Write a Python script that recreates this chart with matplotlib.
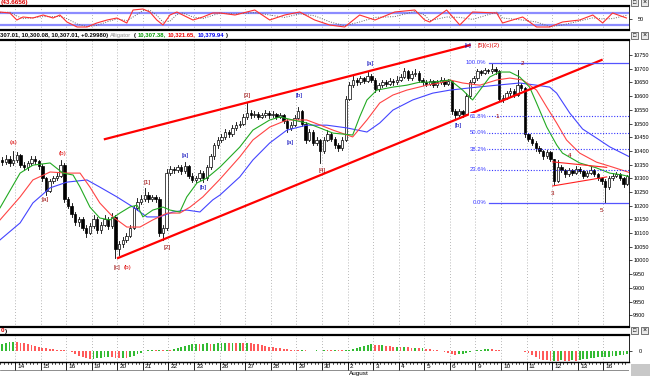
import matplotlib
matplotlib.use("Agg")
import matplotlib.pyplot as plt
from matplotlib.patches import Rectangle

plt.rcParams['font.family'] = ['Liberation Sans Narrow', 'Liberation Sans', 'DejaVu Sans']

# ---- hourly bars (Dow, 13 Jul .. 16 Aug), 7 bars a day ----
opens = [10365, 10360, 10372, 10355,
         10368, 10385, 10350, 10340, 10355, 10372, 10362,
         10345, 10300, 10255, 10290, 10300, 10310, 10350,
         10225, 10200, 10170, 10140, 10150, 10120, 10100,
         10125, 10150, 10110, 10130, 10150, 10125, 10160,
         10040, 10060, 10075, 10090, 10120, 10190, 10215,
         10225, 10240, 10225, 10230, 10225, 10100, 10120,
         10320, 10335, 10330, 10340, 10325, 10345, 10310,
         10295, 10300, 10320, 10300, 10340, 10380, 10420,
         10440, 10450, 10470, 10460, 10485, 10495, 10500,
         10525, 10540, 10530, 10535, 10525, 10530, 10540,
         10530, 10535, 10525, 10530, 10510, 10485, 10495,
         10520, 10545, 10500, 10440, 10470, 10430, 10440,
         10400, 10440, 10460, 10445, 10420, 10410, 10440,
         10590, 10640, 10660, 10650, 10665, 10655, 10675,
         10660, 10625, 10640, 10650, 10645, 10655, 10650,
         10660, 10670, 10690, 10665, 10680, 10685, 10660,
         10650, 10645, 10655, 10640, 10650, 10660, 10645,
         10655, 10545, 10530, 10545, 10535, 10600, 10650,
         10665, 10690, 10685, 10695, 10690, 10700, 10690,
         10590, 10595, 10610, 10620, 10605, 10640, 10630,
         10460, 10445, 10430, 10410, 10400, 10380, 10395,
         10370, 10290, 10340, 10330, 10315, 10330, 10320,
         10335, 10325, 10310, 10320, 10330, 10315, 10300,
         10290, 10270, 10300, 10310, 10315, 10300, 10280]
highs = [10378, 10385, 10380, 10400,
         10395, 10390, 10358, 10362, 10382, 10380, 10368,
         10352, 10305, 10298, 10310, 10320, 10365, 10355,
         10232, 10210, 10178, 10160, 10158, 10130, 10135,
         10165, 10158, 10140, 10165, 10160, 10172, 10165,
         10070, 10085, 10100, 10130, 10200, 10228, 10240,
         10265, 10250, 10240, 10238, 10232, 10128, 10335,
         10345, 10342, 10350, 10348, 10358, 10350, 10318,
         10310, 10330, 10325, 10348, 10390, 10430, 10450,
         10462, 10480, 10478, 10495, 10505, 10510, 10535,
         10575, 10548, 10545, 10542, 10540, 10550, 10546,
         10545, 10540, 10538, 10535, 10515, 10505, 10530,
         10560, 10550, 10505, 10480, 10475, 10450, 10445,
         10450, 10475, 10468, 10450, 10428, 10450, 10600,
         10650, 10672, 10668, 10675, 10670, 10688, 10680,
         10665, 10648, 10660, 10658, 10665, 10662, 10672,
         10680, 10702, 10695, 10690, 10698, 10690, 10665,
         10658, 10662, 10660, 10658, 10670, 10665, 10662,
         10660, 10552, 10552, 10550, 10610, 10660, 10672,
         10698, 10695, 10702, 10700, 10722, 10708, 10695,
         10605, 10620, 10628, 10625, 10695, 10648, 10635,
         10465, 10450, 10435, 10418, 10405, 10402, 10400,
         10372, 10365, 10348, 10335, 10338, 10335, 10345,
         10340, 10330, 10328, 10345, 10335, 10320, 10305,
         10298, 10308, 10318, 10322, 10320, 10305, 10312]
lows = [10350, 10352, 10345, 10350,
        10360, 10342, 10330, 10332, 10350, 10352, 10335,
        10290, 10240, 10250, 10282, 10295, 10305, 10215,
        10190, 10160, 10130, 10125, 10110, 10085, 10095,
        10118, 10100, 10102, 10125, 10115, 10120, 10010,
        10020, 10050, 10068, 10085, 10115, 10185, 10205,
        10218, 10215, 10218, 10215, 10090, 10075, 10112,
        10312, 10320, 10322, 10315, 10318, 10302, 10285,
        10288, 10295, 10288, 10295, 10335, 10372, 10412,
        10432, 10445, 10450, 10455, 10478, 10488, 10495,
        10518, 10522, 10525, 10518, 10520, 10525, 10522,
        10524, 10518, 10520, 10502, 10470, 10478, 10490,
        10515, 10492, 10430, 10435, 10420, 10422, 10355,
        10392, 10435, 10438, 10410, 10400, 10405, 10435,
        10585, 10632, 10642, 10645, 10648, 10650, 10652,
        10615, 10620, 10635, 10638, 10640, 10642, 10645,
        10655, 10665, 10658, 10660, 10675, 10652, 10642,
        10638, 10640, 10632, 10635, 10645, 10638, 10640,
        10535, 10520, 10525, 10525, 10530, 10595, 10645,
        10660, 10678, 10680, 10684, 10686, 10682, 10582,
        10580, 10588, 10602, 10598, 10600, 10622, 10450,
        10435, 10422, 10400, 10392, 10372, 10375, 10362,
        10275, 10285, 10322, 10305, 10310, 10312, 10315,
        10318, 10302, 10305, 10315, 10308, 10292, 10280,
        10210, 10262, 10295, 10305, 10292, 10270, 10275]
closes = [10360, 10372, 10355, 10368,
          10385, 10350, 10340, 10355, 10372, 10362, 10345,
          10300, 10255, 10290, 10300, 10310, 10350, 10225,
          10200, 10170, 10140, 10150, 10120, 10100, 10125,
          10150, 10110, 10130, 10150, 10125, 10160, 10040,
          10060, 10075, 10090, 10120, 10190, 10215, 10225,
          10240, 10225, 10230, 10225, 10100, 10120, 10320,
          10335, 10330, 10340, 10325, 10345, 10310, 10295,
          10300, 10320, 10300, 10340, 10380, 10420, 10440,
          10450, 10470, 10460, 10485, 10495, 10500, 10525,
          10540, 10530, 10535, 10525, 10530, 10540, 10530,
          10535, 10525, 10530, 10510, 10485, 10495, 10520,
          10545, 10500, 10440, 10470, 10430, 10440, 10400,
          10440, 10460, 10445, 10420, 10410, 10440, 10590,
          10640, 10660, 10650, 10665, 10655, 10675, 10660,
          10625, 10640, 10650, 10645, 10655, 10650, 10660,
          10670, 10690, 10665, 10680, 10685, 10660, 10650,
          10645, 10655, 10640, 10650, 10660, 10645, 10655,
          10545, 10530, 10545, 10535, 10600, 10650, 10665,
          10690, 10685, 10695, 10690, 10700, 10690, 10590,
          10595, 10610, 10620, 10605, 10640, 10630, 10460,
          10445, 10430, 10410, 10400, 10380, 10395, 10370,
          10290, 10340, 10330, 10315, 10330, 10320, 10335,
          10325, 10310, 10320, 10330, 10315, 10300, 10290,
          10270, 10300, 10310, 10315, 10300, 10280, 10307]

# alligator lines (bar position, price)
lips_x = [-0.6, 4.9, 8.4, 13.1, 16.6, 19.4, 21.3, 24.0, 26.7, 29.5, 32.2, 34.9, 36.9, 38.5, 41.2, 44.0,
          45.9, 48.6, 50.5, 53.3, 56.0, 59.6, 65.0, 68.6, 73.2, 76.0, 79.5, 83.3, 86.9, 90.5, 95.9, 97.8,
          99.8, 102.5, 106.9, 110.7, 114.2, 117.8, 122.5, 126.0, 128.7, 130.7, 133.4, 136.1, 138.9, 141.6,
          144.3, 146.2, 149.0, 151.7, 153.3, 158.0, 162.6, 166.2, 169.7, 171.4]
lips_y = [10192, 10319, 10348, 10356, 10319, 10312, 10268, 10195, 10155, 10148, 10173, 10195, 10202, 10159,
          10184, 10195, 10184, 10177, 10232, 10283, 10301, 10341, 10414, 10476, 10513, 10524, 10513, 10502,
          10484, 10465, 10458, 10524, 10586, 10622, 10633, 10640, 10651, 10651, 10659, 10622, 10586, 10622,
          10670, 10688, 10688, 10670, 10633, 10575, 10487, 10422, 10392, 10356, 10338, 10319, 10312, 10307]
teeth_x = [-0.6, 4.9, 8.4, 13.1, 17.7, 21.3, 24.0, 26.7, 30.3, 34.1, 37.7, 41.2, 45.1, 48.6, 51.4, 54.9,
           59.6, 65.0, 68.6, 73.2, 77.9, 83.3, 86.9, 90.5, 95.9, 99.8, 103.3, 106.9, 110.7, 116.2, 119.7,
           122.5, 126.0, 130.7, 135.3, 138.9, 142.4, 146.2, 149.0, 151.7, 154.4, 158.0, 162.6, 167.0, 171.4]
teeth_y = [10148, 10232, 10294, 10323, 10319, 10319, 10268, 10210, 10159, 10122, 10122, 10148, 10173, 10173,
           10195, 10232, 10297, 10378, 10440, 10487, 10513, 10513, 10495, 10476, 10451, 10513, 10575, 10604,
           10622, 10640, 10648, 10659, 10648, 10640, 10659, 10666, 10659, 10622, 10560, 10502, 10440, 10392,
           10359, 10341, 10322]
jaw_x = [-0.6, 4.9, 8.4, 13.1, 17.7, 23.2, 26.7, 31.4, 35.8, 39.6, 43.1, 46.7, 50.5, 54.1, 57.6, 59.6,
         65.0, 68.6, 73.2, 77.9, 83.3, 88.8, 94.3, 99.8, 103.3, 106.9, 112.3, 117.8, 122.5, 127.9, 135.3,
         141.6, 146.2, 149.8, 151.7, 155.3, 158.8, 162.6, 166.2, 171.4]
jaw_y = [10075, 10137, 10210, 10265, 10286, 10294, 10268, 10232, 10195, 10159, 10159, 10177, 10184, 10177,
         10221, 10239, 10305, 10367, 10429, 10476, 10494, 10494, 10484, 10469, 10502, 10549, 10586, 10611,
         10622, 10630, 10640, 10648, 10640, 10633, 10611, 10538, 10480, 10447, 10415, 10380]

# wave channel, triangle, fibonacci
chan_hi = ([28.1, 127.9], [10443, 10786])
chan_lo = ([31.7, 164.0], [10009, 10732])
tri_hi = ([150.6, 165.4], [10360, 10340])
tri_lo = ([150.6, 165.4], [10272, 10305])
fib_levels = [100.0, 61.8, 50.0, 38.2, 23.6, 0.0]
fib_top, fib_bottom = 10722, 10210

# wave labels
wave_text = ['(a)', '[a]', '(b)', '[c]', '(b)', '[1]', '[2]', '[a]', '[b]', '[3]', '[a]', '[b]', '[4]',
             '[a]', '[b]', '[c]', '[5](c)(2)', '1', '2', '3', '4', '5']
wave_x = [3.0, 11.7, 16.6, 31.3, 34.4, 39.6, 45.1, 50.0, 54.9, 66.9, 78.7, 81.2, 87.4,
          100.6, 124.6, 127.3, 133.0, 135.5, 142.4, 150.6, 155.3, 164.0]
wave_y = [10429, 10221, 10392, 9976, 9976, 10286, 10049, 10385, 10268, 10604, 10432, 10604, 10330,
          10721, 10491, 10786, 10786, 10524, 10721, 10246, 10385, 10184]
wave_col = ['r', 'm', 'r', 'm', 'r', 'm', 'm', 'b', 'b', 'm', 'b', 'b', 'm',
            'b', 'b', 'b', 'r', 'm', 'm', 'm', 'm', 'm']

# stochastic-like oscillator (top panel)
osc_x = [-0.6, 2.1, 4.0, 5.7, 8.4, 11.2, 13.9, 15.8, 17.7, 20.5, 23.2, 25.9, 28.7, 31.4, 34.1, 35.8, 38.5,
         40.4, 42.3, 44.0, 45.9, 47.8, 49.4, 52.2, 54.9, 57.6, 59.6, 63.7, 69.1, 73.2, 77.3, 81.4, 85.5,
         89.6, 93.7, 97.8, 102.0, 107.4, 112.9, 115.6, 117.0, 121.6, 125.2, 128.7, 135.3, 136.9, 142.4,
         146.2, 149.8, 153.3, 158.0, 161.6, 164.3, 167.0, 170.8]
osc_k = [85, 80, 45, 60, 55, 70, 55, 70, 35, 10, 10, 30, 45, 55, 30, 95, 100, 85, 45, 20, 70, 85, 70, 45,
         60, 80, 80, 70, 95, 45, 70, 85, 45, 20, 10, 70, 45, 85, 95, 45, 35, 95, 20, 85, 80, 30, 60, 10, 10,
         35, 45, 70, 30, 80, 55]
osc_d = [82, 84, 65, 52, 56, 62, 62, 63, 52, 25, 12, 18, 36, 50, 42, 60, 92, 94, 68, 35, 40, 72, 80, 60,
         52, 68, 80, 75, 82, 70, 58, 76, 66, 36, 16, 35, 58, 62, 88, 70, 42, 60, 58, 48, 84, 55, 45, 35, 12,
         20, 40, 56, 50, 52, 68]

# histogram (bottom panel)
hist = [7, 8, 9, 9.5,
        9, 8.5, 8, 7, 6, 5, 4,
        3.5, 3, 2.5, 2, 1.5, 1, 0.8,
        0.5, -1, -3, -5, -6, -7, -8,
        -7.5, -7, -6.5, -6, -5.5, -6, -6.5,
        -7, -6.5, -7, -6, -4.5, -3, -1.5,
        0.5, 1, 1.2, 1, 1.3, 1, 1.5,
        1, 2, 3, 4.5, 5.5, 6.5, 7,
        7.5, 7, 7.5, 8, 7.5, 7.5, 8,
        8.5, 8.5, 8, 8.5, 8, 8.5, 8,
        8.5, 8, 7.5, 7, 6, 5, 4.5,
        4, 3.5, 3, 2.5, 2, 1.5, 1.2,
        1, 1.2, 0.8, 0.5, 0.3, 0.6, 0.3,
        1, 0.9, 0.8, 0.9, 0.8, 0.7, 1.0,
        1.5, 2.5, 3.5, 4.5, 5.5, 6.5, 7,
        6.5, 6, 6, 5.5, 5, 4.5, 4.5,
        4, 4.5, 4, 3.5, 3.5, 3, 3,
        2.5, 2, 1.5, 1, 0.5, -0.5, -1.5,
        -3, -3.5, -3, -2.5, -1.5, -0.5, 0.5,
        1, 1.5, 1.8, 2, 1.8, 1.5, 1,
        0.5, 0.3, 0.2, 0.2, 0.3, 0.1, -0.5,
        -2, -4, -6, -7.5, -8.5, -9, -9.5,
        -9.5, -10, -9, -9.5, -10, -9, -9.5,
        -8.5, -8, -7.5, -7, -6.5, -6, -6,
        -5.5, -5.5, -5, -4.5, -4, -3.5, -3]

day_labels = ['14', '15', '16', '19', '20', '21', '22', '23', '26', '27', '28', '29', '30',
              '2', '3', '4', '5', '6', '9', '10', '11', '12', '13', '16']
price_ticks = list(range(9800, 10751, 50))
header_parts = [('307.01, 10,300.08, 10,307.01, +0.29980)', 'black', 'bold'),
                ('Alligator', '#909090', 'normal'), ('(', 'black', 'bold'),
                ('10,307.38,', '#009900', 'bold'), ('10,321.65,', '#ee0000', 'bold'),
                ('10,379.94', '#0000ee', 'bold'), (')', 'black', 'bold')]

W, H = 650, 376
fig = plt.figure(figsize=(6.5, 3.76), dpi=100)
fig.patch.set_facecolor('white')
XL = (-0.6, 171.5)
day_starts = [3.5 + 7 * k for k in range(len(day_labels))]
GRID = dict(color='#a0a0a0', lw=0.6, ls=(0, (1, 2.5)))
FS = 4.6
AXFS = 4.0


def pax(x0, y0, x1, y1):
    return fig.add_axes([x0 / W, 1 - y1 / H, (x1 - x0) / W, (y1 - y0) / H])


def ftext(x, y, s, color='black', size=FS, **kw):
    return fig.text(x / W, 1 - y / H, s, color=color, fontsize=size, va='center', **kw)


def frame(ax):
    ax.set_facecolor('white')
    ax.spines['left'].set_visible(False)
    ax.spines['top'].set_linewidth(1.6)
    ax.spines['bottom'].set_linewidth(1.6)
    ax.spines['right'].set_linewidth(0.6)
    ax.set_xlim(*XL)
    ax.set_xticks([])
    ax.yaxis.tick_right()
    ax.tick_params(axis='y', labelsize=AXFS, length=2, width=0.5, pad=1.0)
    for d in day_starts:
        ax.axvline(d, **GRID, zorder=0)


def buttons(y):
    for x0 in [631, 641]:
        fig.add_artist(Rectangle((x0 / W, 1 - (y + 4) / H), 7 / W, 7 / H, transform=fig.transFigure,
                                 facecolor='#e8e8e8', edgecolor='#404040', lw=0.5))
    ftext(634.5, y + 0.5, '□', ha='center', size=4)
    ftext(644.5, y + 0.5, '×', ha='center', size=5)


# ---- top oscillator ----
ax_o = pax(0, 6, 629, 30)
frame(ax_o)
ax_o.set_ylim(-5, 115)
ax_o.set_yticks([50])
ax_o.tick_params(axis='y', pad=4)
ax_o.axhline(80, color='#8c8cff', lw=1.6)
ax_o.axhline(20, color='#8c8cff', lw=1.6)
ax_o.plot(osc_x, osc_d, color='#666666', lw=0.7, ls=(0, (1, 1.5)))
ax_o.plot(osc_x, osc_k, color='#ff3030', lw=0.8)
ftext(1, 2.5, '(43.6656)', color='#dd0000', fontweight='bold')
buttons(2)

# ---- header line of main panel (pieces laid out one after another) ----
renderer = fig.canvas.get_renderer()
hx = 0
for s, c, wgt in header_parts:
    t = ftext(hx, 35, s, color=c, size=4.2, fontweight=wgt)
    hx += t.get_window_extent(renderer).width + 2
buttons(35)

# ---- main price panel ----
ax = pax(0, 40, 629, 327)
frame(ax)
ax.set_ylim(9757, 10805)
ax.set_yticks(price_ticks)
ax.set_yticklabels([str(t) for t in price_ticks])

for i, (o, h, l, c) in enumerate(zip(opens, highs, lows, closes)):
    ax.plot([i, i], [l, h], color='black', lw=0.6, zorder=3)
    up = c >= o
    ax.add_patch(Rectangle((i - 0.33, min(o, c)), 0.66, max(abs(c - o), 2),
                           facecolor='white' if up else 'black', edgecolor='black', lw=0.5, zorder=4))

ax.plot(jaw_x, jaw_y, color='#4444ff', lw=0.8, zorder=5)
ax.plot(teeth_x, teeth_y, color='#ff4444', lw=0.8, zorder=5)
ax.plot(lips_x, lips_y, color='#22aa22', lw=0.8, zorder=5)

ax.plot(*chan_hi, color='#ff0000', lw=1.6, zorder=6)
ax.plot(*chan_lo, color='#ff0000', lw=1.6, zorder=6)
ax.plot(*tri_hi, color='#ff2020', lw=0.8, zorder=6)
ax.plot(*tri_lo, color='#ff2020', lw=0.8, zorder=6)

for lev in fib_levels:
    p = fib_bottom + (fib_top - fib_bottom) * lev / 100
    if lev in (0.0, 100.0):
        ax.plot([133.2, XL[1]], [p, p], color='#5555ff', lw=0.9, zorder=6)
    else:
        ax.plot([128.5, XL[1]], [p, p], color='#3333ff', lw=0.8, ls=(0, (1, 1.5)), zorder=6)
    ax.text(132.5, p, f'{lev:.1f}%', color='#3333ff', fontsize=4.3, ha='right', va='center', zorder=7,
            bbox=dict(facecolor='white', edgecolor='none', pad=0.2))

cols = {'r': '#dd0000', 'm': '#990000', 'b': '#0000bb'}
for s, x, y, c in zip(wave_text, wave_x, wave_y, wave_col):
    ax.text(x, y, s, color=cols[c], fontsize=4.5, ha='center', va='center', zorder=8)

# ---- histogram panel ----
ftext(1, 331, '0', color='#dd0000', fontweight='bold')
ftext(5, 331, ')', fontweight='bold')
buttons(330)
ax_h = pax(0, 335, 629, 362)
frame(ax_h)
ax_h.spines['bottom'].set_linewidth(1.0)
ax_h.set_ylim(-11, 16)
ax_h.set_yticks([0])
ax_h.tick_params(axis='y', pad=5)
hcol = ['#33bb33' if k == 0 or hist[k] >= hist[k - 1] else '#ff5a5a' for k in range(len(hist))]
ax_h.bar(range(len(hist)), hist, width=0.5, color=hcol, zorder=3)

# ---- date axis ----
ax_d = pax(0, 362, 629, 376)
ax_d.set_xlim(*XL)
ax_d.set_ylim(0, 14)
ax_d.axis('off')
for k in range(len(hist)):
    ax_d.plot([k - 0.5, k - 0.5], [14, 12.3], color='black', lw=0.5)
for d, lab in zip(day_starts, day_labels):
    ax_d.plot([d, d], [14, 6], color='black', lw=0.6)
    ax_d.text(d + 0.6, 10, lab, fontsize=FS, va='center', ha='left')
ax_d.plot(XL, [6, 6], color='#606060', lw=0.5)
ax_d.text(day_starts[13] + 0.3, 2.5, 'August', fontsize=FS, va='center', ha='left')
fig.add_artist(Rectangle((631 / W, 0), 19 / W, 12 / H, transform=fig.transFigure,
                         facecolor='#c8c8c8', edgecolor='none'))

fig.savefig('out.png', dpi=100, facecolor='white')
